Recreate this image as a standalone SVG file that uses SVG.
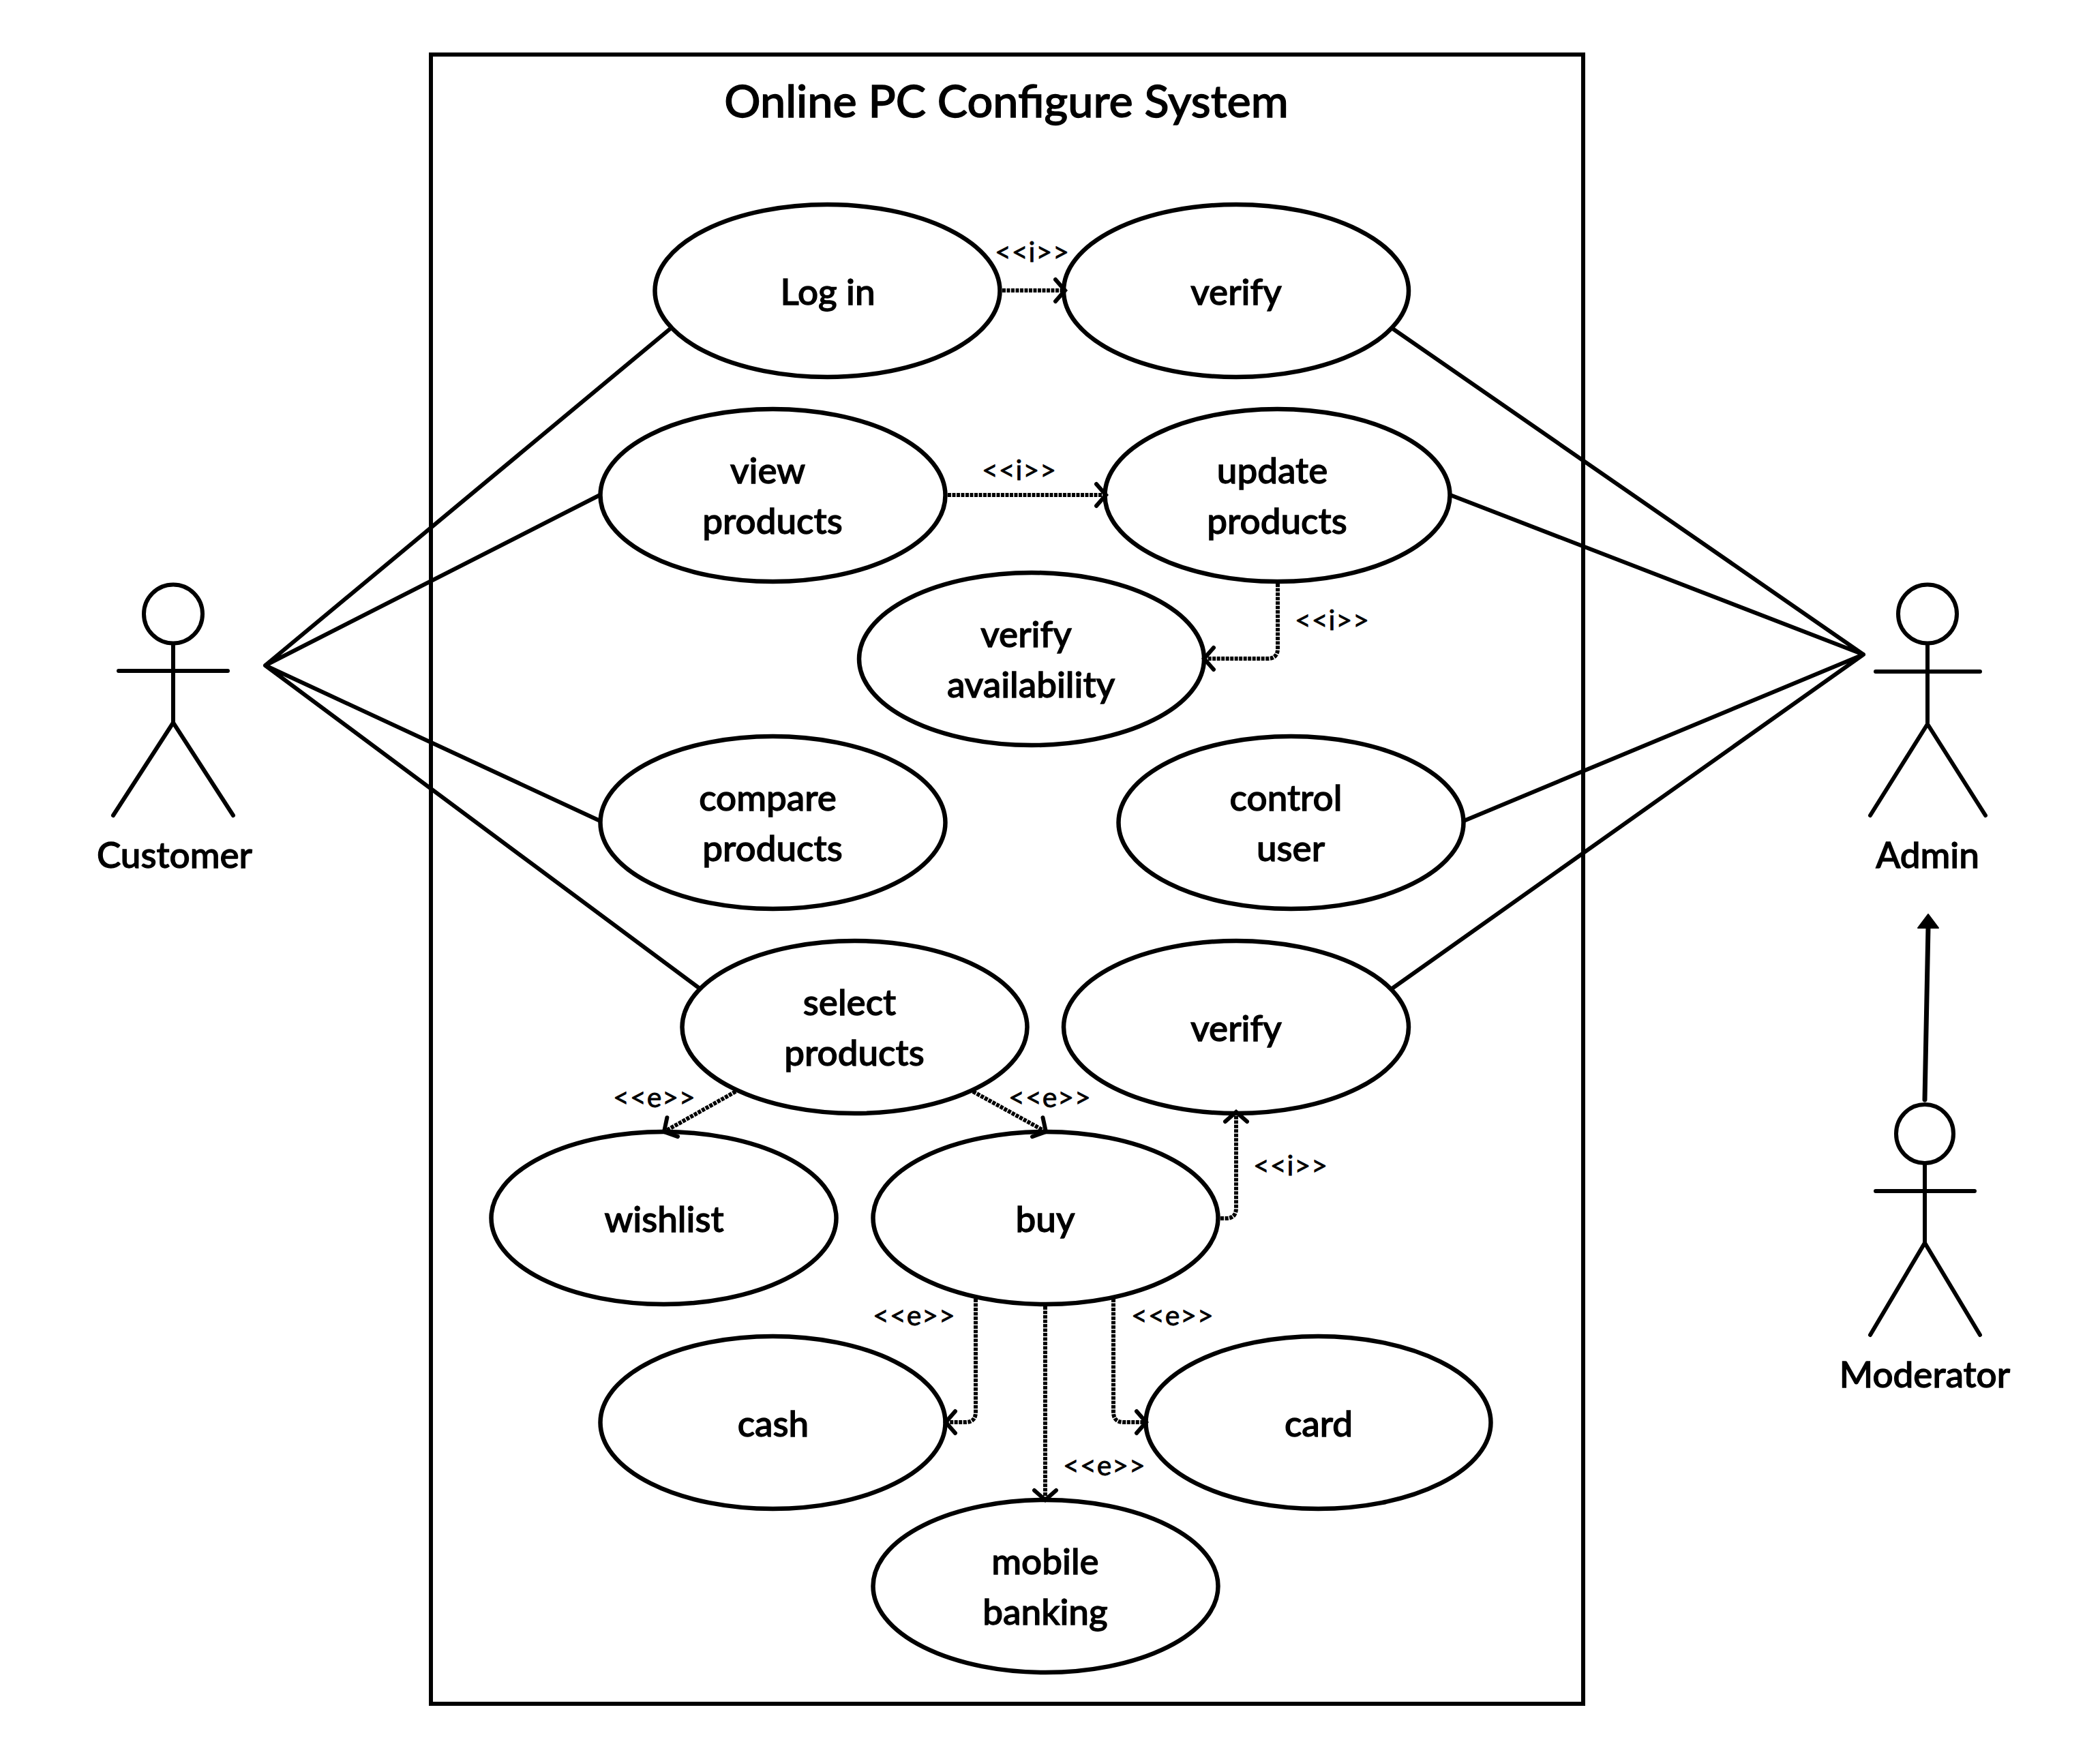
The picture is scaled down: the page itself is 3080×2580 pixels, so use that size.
<svg xmlns="http://www.w3.org/2000/svg" width="3080" height="2580" viewBox="0 0 3080 2580">
<style>
text{font-family:Lato,"Carlito","Liberation Sans",sans-serif;fill:#000;text-anchor:middle}
.t{font-size:53px;font-weight:500;stroke:#000;stroke-width:1.300px}
.title{font-size:66.500px;font-weight:500;stroke:#000;stroke-width:1.300px}
.s{font-size:41px;letter-spacing:1px;stroke:#000;stroke-width:.8px}
.n{fill:#fff;stroke:#000;stroke-width:6.500}
.l{fill:none;stroke:#000;stroke-width:6;stroke-linecap:round;stroke-linejoin:round}
.d{fill:none;stroke:#000;stroke-width:6;stroke-dasharray:5 1.500;marker-end:url(#o)}
</style>
<defs>
<marker id="o" markerUnits="userSpaceOnUse" markerWidth="40" markerHeight="40" refX="22" refY="20" orient="auto"><path d="M8 4L22 20L8 36" fill="none" stroke="#000" stroke-width="6" stroke-linecap="round"/></marker>
</defs>
<rect id="system" x="632" y="80" width="1690" height="2419" fill="#fff" stroke="#000" stroke-width="6"/>
<text class="title" x="1476" y="172">Online PC Configure System</text>
<g id="login"><ellipse class="n" cx="1213.500" cy="426.500" rx="253" ry="126.500"/><text class="t" x="1214" y="447">Log in</text></g>
<g id="verify1"><ellipse class="n" cx="1813" cy="426.500" rx="253" ry="126.500"/><text class="t" x="1813" y="447">verify</text></g>
<g id="view"><ellipse class="n" cx="1133.500" cy="726.500" rx="253" ry="126.500"/><text class="t" x="1126" y="709">view</text><text class="t" x="1133" y="783">products</text></g>
<g id="update"><ellipse class="n" cx="1873.500" cy="726.500" rx="253" ry="126.500"/><text class="t" x="1866" y="709">update</text><text class="t" x="1873" y="783">products</text></g>
<g id="availability"><ellipse class="n" cx="1513" cy="966.500" rx="253" ry="126.500"/><text class="t" x="1505" y="949">verify</text><text class="t" x="1512" y="1023">availability</text></g>
<g id="compare"><ellipse class="n" cx="1133.500" cy="1206.500" rx="253" ry="126.500"/><text class="t" x="1126" y="1189">compare</text><text class="t" x="1133" y="1263">products</text></g>
<g id="control"><ellipse class="n" cx="1893.500" cy="1206.500" rx="253" ry="126.500"/><text class="t" x="1886" y="1189">control</text><text class="t" x="1893" y="1263">user</text></g>
<g id="select"><ellipse class="n" cx="1253.500" cy="1506.500" rx="253" ry="126.500"/><text class="t" x="1246" y="1489">select</text><text class="t" x="1253" y="1563">products</text></g>
<g id="verify2"><ellipse class="n" cx="1813" cy="1506.500" rx="253" ry="126.500"/><text class="t" x="1813" y="1527">verify</text></g>
<g id="wishlist"><ellipse class="n" cx="973.500" cy="1786.500" rx="253" ry="126.500"/><text class="t" x="974" y="1807">wishlist</text></g>
<g id="buy"><ellipse class="n" cx="1533.500" cy="1786.500" rx="253" ry="126.500"/><text class="t" x="1533" y="1807">buy</text></g>
<g id="cash"><ellipse class="n" cx="1133.500" cy="2086.500" rx="253" ry="126.500"/><text class="t" x="1134" y="2107">cash</text></g>
<g id="card"><ellipse class="n" cx="1933.500" cy="2086.500" rx="253" ry="126.500"/><text class="t" x="1934" y="2107">card</text></g>
<g id="mobile"><ellipse class="n" cx="1533.500" cy="2326.500" rx="253" ry="126.500"/><text class="t" x="1533" y="2309">mobile</text><text class="t" x="1533" y="2383">banking</text></g>
<g id="connectors">
<path class="l" d="M982 483L389 976L880 726M389 976L880 1204M389 976L1025 1449"/>
<path class="l" d="M2044 483L2733 960L2127 726M2733 960L2147 1204M2733 960L2043 1449"/>
<path class="d" d="M1470 426H1562"/>
<path class="d" d="M1390 726H1622"/>
<path class="d" d="M1874 856V951Q1874 966 1859 966H1766"/>
<path class="d" d="M1079 1601L974 1660"/>
<path class="d" d="M1427 1601L1534 1660"/>
<path class="d" d="M1790 1787H1798Q1813 1787 1813 1772V1631"/>
<path class="d" d="M1431 1905V2071Q1431 2086 1416 2086H1387"/>
<path class="d" d="M1533 1916V2200"/>
<path class="d" d="M1633 1905V2071Q1633 2086 1648 2086H1681"/>
<path d="M2823 1613L2828 1360" fill="none" stroke="#000" stroke-width="7" stroke-linecap="round"/>
<path d="M2828 1341L2843 1361H2813Z" fill="#000" stroke="#000" stroke-width="2" stroke-linejoin="round"/>
</g>
<g id="labels">
<text class="s" x="1514" y="384">&lt;&lt;i&gt;&gt;</text>
<text class="s" x="1495" y="704">&lt;&lt;i&gt;&gt;</text>
<text class="s" x="1954" y="924">&lt;&lt;i&gt;&gt;</text>
<text class="s" x="960" y="1624">&lt;&lt;e&gt;&gt;</text>
<text class="s" x="1540" y="1624">&lt;&lt;e&gt;&gt;</text>
<text class="s" x="1893" y="1724">&lt;&lt;i&gt;&gt;</text>
<text class="s" x="1341" y="1944">&lt;&lt;e&gt;&gt;</text>
<text class="s" x="1720" y="1944">&lt;&lt;e&gt;&gt;</text>
<text class="s" x="1620" y="2164">&lt;&lt;e&gt;&gt;</text>
</g>
<g id="customer"><ellipse cx="254" cy="900.500" rx="43" ry="43" fill="#fff" stroke="#000" stroke-width="6"/><path class="l" d="M254 944V1060M174 984H334M166 1196L254 1060L342 1196"/><text class="t" x="256" y="1273">Customer</text></g>
<g id="admin"><ellipse cx="2827" cy="900.500" rx="43" ry="43" fill="#fff" stroke="#000" stroke-width="6"/><path class="l" d="M2827 944V1060M2751 985H2904M2743 1196L2827 1062L2912 1196"/><text class="t" x="2827" y="1273">Admin</text></g>
<g id="moderator"><ellipse cx="2823" cy="1663" rx="42" ry="43" fill="#fff" stroke="#000" stroke-width="6"/><path class="l" d="M2823 1707V1823M2751 1747H2896M2743 1958L2823 1823L2904 1958"/><text class="t" x="2823" y="2035">Moderator</text></g>
</svg>
